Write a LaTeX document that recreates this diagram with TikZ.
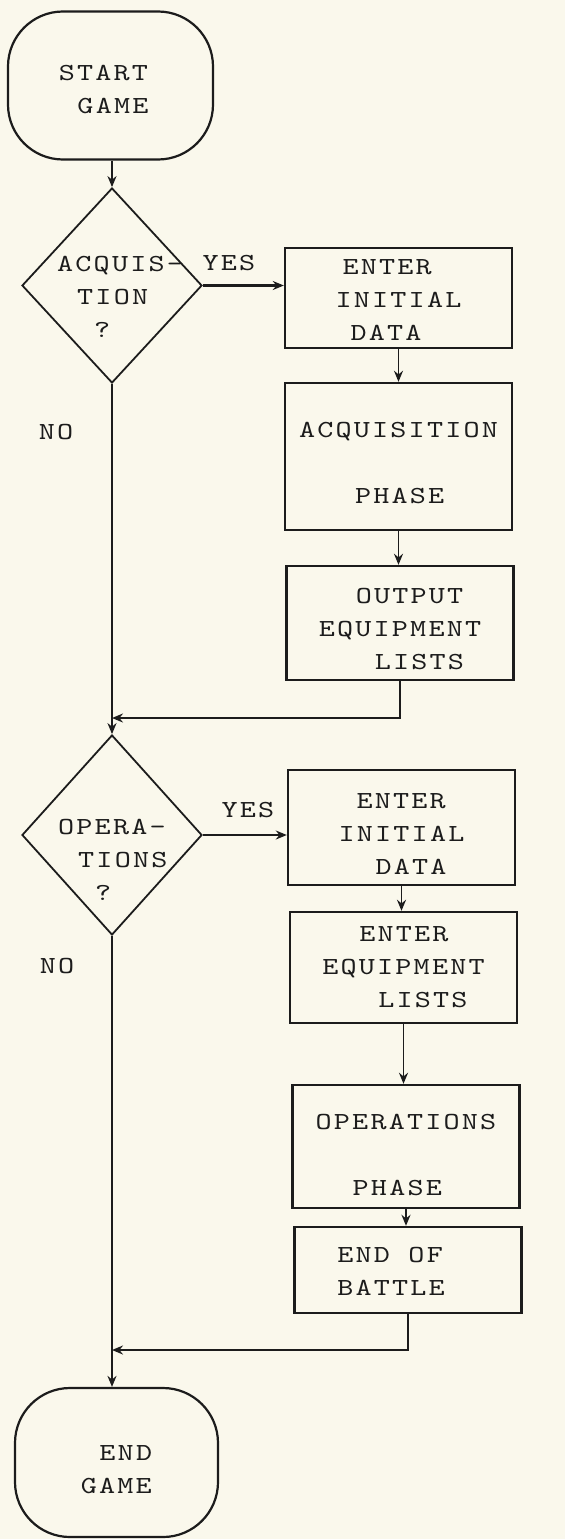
\documentclass[tikz,border=0pt]{standalone}
\usepackage{fontspec}
\newfontfamily\lmtw[FakeStretch=1.25,LetterSpace=9]{lmmono10-regular.otf}
\newcommand{\twfont}{\lmtw\fontsize{24.5}{33}\selectfont}
\usetikzlibrary{shapes.geometric,arrows.meta}
\definecolor{paper}{RGB}{250,248,236}
\definecolor{ink}{RGB}{28,28,28}
\newcommand{\tind}[1]{\hspace*{#1pt}}
\newcommand{\tup}[1]{\rule{0pt}{#1pt}}
\begin{document}
\begin{tikzpicture}[x=1pt,y=-1pt,
  every node/.style={font=\twfont, text=ink},
  stepbox/.style={draw=ink, line width=2.4pt, minimum width=227pt, inner sep=0pt, align=left},
  terminal/.style={draw=ink, line width=2.2pt, rounded corners=55pt, minimum width=205pt, minimum height=148pt, inner sep=0pt, align=left},
  decision/.style={draw=ink, line width=1.8pt, diamond, minimum width=180pt, inner sep=0pt},
  dtext/.style={anchor=west, inner sep=0pt, align=left},
  lbl/.style={inner sep=0pt},
  conn/.style={draw=ink, line width=1.8pt},
  arr/.style={conn, -{Stealth[length=11pt,width=9pt]}}]
\fill[paper] (0,0) rectangle (565,1539);
\useasboundingbox (0,0) rectangle (565,1539);

% nodes
\node[terminal] (start) at (110.5,85.5) {\tup{23}START\tind{14}\\\tind{18.6}GAME};
\node[decision, minimum height=195pt] (d1) at (112,285.5) {};
\node[dtext] (d1t) at (57,297) {ACQUIS-\\\tind{20}TION\\\tind{37}?};
\node[stepbox, minimum height=100pt] (b1) at (398.5,298) {\tup{19}\tind{7}ENTER\\INITIAL\\\tind{15}DATA};
\node[stepbox, minimum height=147pt] (b2) at (398.5,456.5) {\tup{29}ACQUISITION\\\mbox{}\\\tind{56}PHASE};
\node[stepbox, minimum height=114pt] (b3) at (400,623) {\tup{27}\tind{37}OUTPUT\\EQUIPMENT\\\tind{56}LISTS};
\node[decision, minimum height=200pt] (d2) at (112,835) {};
\node[dtext] (d2t) at (58,860) {OPERA-\\\tind{20}TIONS\\\tind{37}?};
\node[stepbox, minimum height=115pt] (b4) at (401.5,827.5) {\tup{28}\tind{18}ENTER\\INITIAL\\\tind{37}DATA};
\node[stepbox, minimum height=111pt] (b5) at (403.5,967.5) {\tind{37}ENTER\\EQUIPMENT\\\tind{56}LISTS};
\node[stepbox, minimum height=123pt] (b6) at (406,1146.5) {\tup{33}OPERATIONS\\\mbox{}\\\tind{37}PHASE};
\node[stepbox, minimum height=86pt] (b7) at (408,1270) {\tup{18}END\tind{18.6}OF\tind{34}\\BATTLE\tind{34}};
\node[terminal, minimum width=203pt, minimum height=149pt] (end) at (116.5,1462.5) {\tup{29}\tind{18.6}END\\GAME};

\node[lbl] (yes1) at (229,263) {YES};
\node[lbl] (yes2) at (248,810) {YES};
\node[lbl] (no1) at (56,432) {NO};
\node[lbl] (no2) at (57,966) {NO};

\coordinate (j1) at (112,718);
\coordinate (j2) at (112,1350);

% connectors
\draw[arr] (start.south -| d1.north) -- (d1.north);
\draw[arr, line width=3pt] (d1.east) -- (d1.east -| b1.west);
\draw[arr] (b1.south) -- (b1.south |- b2.north);
\draw[arr] (b2.south) -- (b2.south |- b3.north);
\draw[conn] (d1.south) -- (j1);
\draw[arr] (b3.south) -- (b3.south |- j1) -- (j1);
\draw[arr] (j1) -- (d2.north);
\draw[arr] (d2.east) -- (d2.east -| b4.west);
\draw[arr] (b4.south) -- (b4.south |- b5.north);
\draw[arr] (b5.south) -- (b5.south |- b6.north);
\draw[arr] (b6.south) -- (b6.south |- b7.north);
\draw[conn] (d2.south) -- (j2);
\draw[arr] (b7.south) -- (b7.south |- j2) -- (j2);
\draw[arr] (j2) -- (j2 |- end.north);
\end{tikzpicture}
\end{document}
